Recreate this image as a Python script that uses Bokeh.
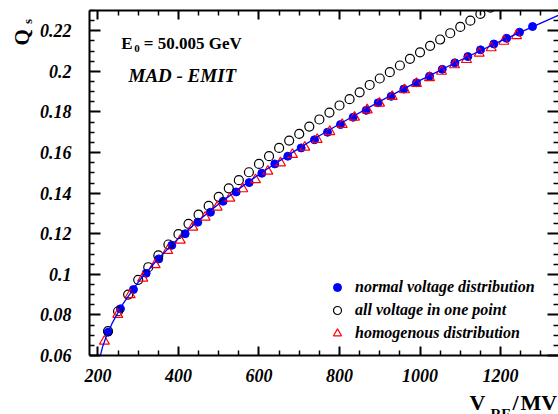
import numpy as np
from bokeh.plotting import figure
from bokeh.models import (Range1d, LinearAxis, FixedTicker, CustomJSTickFormatter,
                          Label, Legend, LegendItem)
from bokeh.embed import file_html
from bokeh.resources import INLINE

# ---------------- data ----------------
# normal voltage distribution (blue filled circles)
normal_V = [225.3, 255.9, 288.2, 319.8, 351.1, 383.4, 416.6, 448.0, 479.5, 511.0,
            543.4, 575.7, 607.0, 639.3, 671.6, 704.8, 737.9, 770.2, 802.5, 834.0,
            866.3, 896.1, 928.4, 959.8, 991.3, 1023.6, 1055.2, 1086.5, 1118.8, 1150.3,
            1183.4, 1215.0, 1247.2, 1279.5]
normal_Q = [0.0715, 0.0830, 0.0925, 0.1005, 0.1076, 0.1143, 0.1200, 0.1257, 0.1306, 0.1360,
            0.1406, 0.1452, 0.1498, 0.1544, 0.1582, 0.1623, 0.1663, 0.1700, 0.1738, 0.1774,
            0.1808, 0.1845, 0.1877, 0.1913, 0.1944, 0.1976, 0.2010, 0.2042, 0.2073, 0.2106,
            0.2135, 0.2163, 0.2193, 0.2221]

# all voltage in one point (open black circles)
onept_V = [225, 250, 275, 300, 325, 350, 375, 400, 425, 450,
           475, 500, 525, 550, 575, 600, 625, 650, 675, 700,
           725, 750, 775, 800, 825, 850, 875, 900, 925, 950,
           975, 1000, 1025, 1050, 1075, 1100, 1125, 1150, 1175]
onept_Q = [0.0720, 0.0818, 0.0900, 0.0973, 0.1035, 0.1093, 0.1147, 0.1198, 0.1249, 0.1294,
           0.1337, 0.1382, 0.1424, 0.1464, 0.1503, 0.1544, 0.1582, 0.1623, 0.1659, 0.1692,
           0.1728, 0.1763, 0.1797, 0.1832, 0.1863, 0.1897, 0.1933, 0.1965, 0.1996, 0.2029,
           0.2062, 0.2094, 0.2126, 0.2157, 0.2188, 0.2219, 0.2250, 0.2283, 0.2314]

# homogenous distribution (open red triangles)
homog_V = [216.1, 249.2, 280.0, 311.3, 342.1, 373.4, 404.5, 435.5, 466.3, 496.1,
           527.5, 559.8, 591.3, 621.9, 653.4, 683.2, 713.8, 744.6, 775.9, 806.7,
           837.3, 868.8, 899.4, 930.9, 961.5, 991.3, 1023.6, 1053.4, 1085.7, 1115.5,
           1147.1, 1176.9, 1208.2, 1239.8]
homog_Q = [0.0670, 0.0802, 0.0899, 0.0981, 0.1047, 0.1117, 0.1168, 0.1232, 0.1281, 0.1331,
           0.1375, 0.1421, 0.1466, 0.1508, 0.1549, 0.1590, 0.1626, 0.1664, 0.1703, 0.1738,
           0.1774, 0.1810, 0.1843, 0.1876, 0.1909, 0.1940, 0.1969, 0.2000, 0.2032, 0.2058,
           0.2089, 0.2116, 0.2148, 0.2176]

# blue fit curve
fit_V = [206, 212, 220, 235, 260, 300, 350, 400, 450, 500, 550, 600, 650, 700, 750,
         800, 900, 1000, 1100, 1200, 1345]
fit_Q = [0.0600, 0.0646, 0.0690, 0.0758, 0.0848, 0.0962, 0.1078, 0.1177, 0.1265, 0.1346,
         0.1421, 0.1492, 0.1558, 0.1622, 0.1683, 0.1741, 0.1852, 0.1956, 0.2055, 0.2149,
         0.2277]

x_major = [200, 400, 600, 800, 1000, 1200]
y_major = [0.06, 0.08, 0.10, 0.12, 0.14, 0.16, 0.18, 0.20, 0.22]

legend_labels = ["normal voltage distribution", "all voltage in one point",
                 "homogenous distribution"]

# ---------------- main figure ----------------
FONT = "Liberation Serif"
W, H = 558, 414
p = figure(width=W, height=H, output_backend="svg", toolbar_location=None,
           x_range=Range1d(179.0, 1344.0), y_range=Range1d(0.06, 0.23),
           x_axis_location=None, y_axis_location=None,
           min_border_left=89, min_border_right=0, min_border_top=10, min_border_bottom=59)
p.outline_line_color = None
p.grid.grid_line_color = None
p.background_fill_color = "white"
p.border_fill_color = "white"

x_minor = [float(v) for v in range(250, 1345, 50) if v not in x_major]
y_minor = [round(0.065 + 0.005 * i, 3) for i in range(34)]
y_minor = [float(v) for v in y_minor if all(abs(v - m) > 1e-6 for m in y_major)]

def make_axis(ticks, minor, labels, tick_len, minor_len, standoff, show_line=True):
    ax = LinearAxis(ticker=FixedTicker(ticks=[float(t) for t in ticks], minor_ticks=minor))
    ax.major_tick_in = tick_len
    ax.major_tick_out = 0
    ax.minor_tick_in = minor_len
    ax.minor_tick_out = 0
    ax.major_tick_line_width = 2
    ax.minor_tick_line_width = 1.5
    ax.axis_line_width = 2
    ax.major_tick_line_color = "black"
    ax.minor_tick_line_color = "black"
    ax.axis_line_color = "black" if show_line else None
    if labels:
        ax.major_label_text_font = FONT
        ax.major_label_text_font_style = "bold italic"
        ax.major_label_text_font_size = "18px"
        ax.major_label_text_color = "black"
        ax.major_label_standoff = standoff
    else:
        ax.formatter = CustomJSTickFormatter(code="return ''")
        ax.major_label_text_font_size = "1px"
        ax.major_label_standoff = 0
    return ax

xb = make_axis(x_major, x_minor, True, 9, 5, 13)
xt = make_axis(x_major, x_minor, False, 9, 5, 0)
yl = make_axis(y_major, y_minor, True, 11, 5, 18)
yl.formatter = CustomJSTickFormatter(code="return tick.toFixed(2).replace(/0$/, '')")
yr = make_axis(y_major, y_minor, False, 11, 5, 0, show_line=False)
p.add_layout(xb, "below")
p.add_layout(xt, "above")
p.add_layout(yl, "left")
p.add_layout(yr, "right")

r_norm = p.scatter(normal_V, normal_Q, marker="circle", size=8,
                   fill_color="#0000ff", line_color="#0000ff", line_width=1)
r_one = p.scatter(onept_V, onept_Q, marker="circle", size=9,
                  fill_color=None, line_color="black", line_width=1.2)
r_hom = p.scatter(homog_V, homog_Q, marker="triangle", size=10,
                  fill_color=None, line_color="#ff0000", line_width=1.2)
p.line(fit_V, fit_Q, line_color="#0000ff", line_width=1.3)

legend = Legend(items=[LegendItem(label=legend_labels[0], renderers=[r_norm]),
                       LegendItem(label=legend_labels[1], renderers=[r_one]),
                       LegendItem(label=legend_labels[2], renderers=[r_hom])],
                location=(238, 12), margin=0, padding=10, spacing=3,
                glyph_width=20, glyph_height=20, label_standoff=8,
                background_fill_alpha=0, border_line_color=None,
                label_text_font=FONT, label_text_font_style="bold italic",
                label_text_font_size="16px", label_text_color="black")
p.add_layout(legend)

# ---------------- transparent overlay for free texts (page pixels) ----------------
ov = figure(width=W, height=H, output_backend="svg", toolbar_location=None,
            x_range=Range1d(0, W), y_range=Range1d(H, 0),
            x_axis_location=None, y_axis_location=None, min_border=0,
            styles={"position": "absolute", "left": "0px", "top": "0px"})
ov.min_border_left = 0
ov.min_border_right = 0
ov.min_border_top = 0
ov.min_border_bottom = 0
ov.outline_line_color = None
ov.background_fill_color = None
ov.border_fill_color = None
ov.grid.grid_line_color = None

def lab(x, y, text, size, style="bold", angle=0.0):
    ov.add_layout(Label(x=x, y=y, text=text, text_font=FONT, text_font_style=style,
                        text_font_size=size, text_color="black", angle=angle,
                        text_align="left", text_baseline="alphabetic"))

lab(120.7, 43.3, "E", "17px")
lab(133.8, 48.0, "0", "11px")
lab(143.3, 43.3, "= 50.005 GeV", "17px")
lab(128.0, 75.0, "MAD - EMIT", "19px", style="bold italic")

lab(21.0, 45.0, "Q", "21px", angle=np.pi / 2)
lab(27.0, 23.5, "s", "13px", angle=np.pi / 2)
lab(469.0, 402.0, "V", "22px")
lab(490.0, 413.0, "RF", "15px")
lab(512.0, 402.0, "/", "22px")
lab(520.0, 402.0, "MV", "22px")

open("out.html", "w").write(file_html([p, ov], INLINE))
